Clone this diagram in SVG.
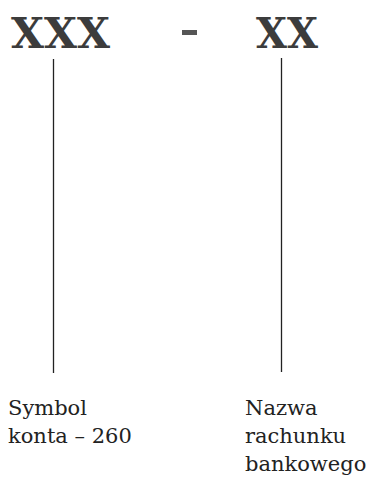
<svg xmlns="http://www.w3.org/2000/svg" width="368" height="482" viewBox="0 0 368 482">
<style>
.big{font-family:"DejaVu Serif","Liberation Serif",serif;font-weight:bold;font-size:42px;fill:#3c3c3c}
.lbl{font-family:"DejaVu Serif","Liberation Serif",serif;font-size:21px;fill:#222}
.ln{stroke:#222;stroke-width:1.3;fill:none}
</style>
<rect width="368" height="482" fill="#fff"/>
<g id="node-xxx"><text class="big" x="11" y="48" textLength="99" lengthAdjust="spacingAndGlyphs">XXX</text></g>
<g id="node-dash"><rect x="182" y="30" width="15" height="5" fill="#555"/></g>
<g id="node-xx"><text class="big" x="256" y="48" textLength="62" lengthAdjust="spacingAndGlyphs">XX</text></g>
<g id="connectors">
<line class="ln" x1="53.5" y1="59" x2="53.5" y2="373"/>
<line class="ln" x1="281.5" y1="58" x2="281.5" y2="372"/>
</g>
<g id="node-symbol"><text class="lbl" x="8" y="415">Symbol</text><text class="lbl" x="8" y="443">konta – 260</text></g>
<g id="node-nazwa"><text class="lbl" x="245" y="415">Nazwa</text><text class="lbl" x="245" y="443">rachunku</text><text class="lbl" x="245" y="471">bankowego</text></g>
</svg>
